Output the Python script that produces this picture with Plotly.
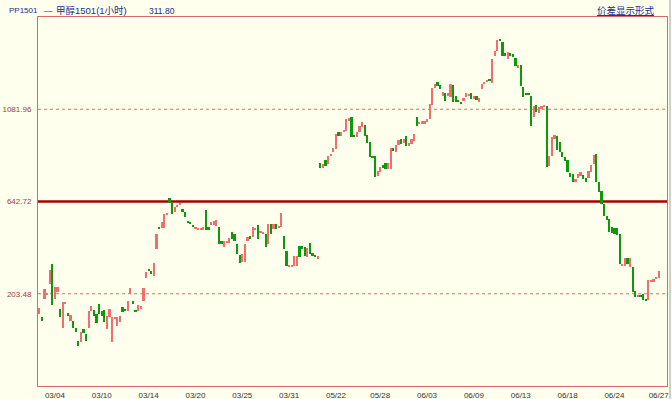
import plotly.graph_objects as go

# ---- data ----
tick_idx = [6, 24, 42, 60, 78, 96, 114, 131, 149, 167, 185, 203, 221, 238]
tick_labels = ["03/04", "03/10", "03/14", "03/20", "03/25", "03/31", "05/22",
               "05/28", "06/03", "06/09", "06/13", "06/18", "06/24", "06/27"]
ref_levels = [203.48, 642.72, 1081.96]
mid_level = 642.72
last_close = 311.80

opens = [
    108, 94, 180, 199, 251, 346, 180, 213, 132, 42, 156, 113, 75, 75, 42, -20, -25, 37, 13, 42,
    123, 127, 108, 156, 123, 127, 37, 94, -25, 84, 51, 70, 142, 127, 123, 203, 170, 123, 123, 132,
    170, 280, 322, 313, 289, 418, 523, 518, 518, 579, 660, 637, 594, 618, 627, 608, 594, 546, 546, 532,
    513, 508, 508, 508, 603, 523, 532, 532, 527, 523, 456, 427, 446, 446, 499, 489, 441, 389, 356, 356,
    456, 480, 475, 508, 532, 494, 489, 489, 441, 537, 513, 537, 518, 523, 480, 408, 332, 332, 337, 337,
    432, 432, 427, 380, 446, 399, 389, 370, 827, 803, 841, 822, 860, 879, 894, 975, 956, 975, 979, 1027,
    1046, 956, 951, 975, 998, 1008, 960, 927, 860, 860, 765, 784, 817, 827, 798, 798, 898, 879, 913, 941,
    922, 956, 908, 917, 932, 1046, 1013, 1013, 1013, 1022, 1036, 1103, 1184, 1213, 1198, 1146, 1160, 1146, 1141, 1198,
    1146, 1127, 1117, 1122, 1141, 1146, 1160, 1132, 1146, 1117, 1179, 1203, 1213, 1227, 1208, 1336, 1360, 1412, 1403, 1351,
    1322, 1351, 1346, 1327, 1279, 1293, 1189, 1160, 1160, 1146, 1046, 1103, 1065, 1084, 1094, 1098, 813, 860, 941, 956,
    927, 879, 856, 841, 779, 775, 737, 756, 765, 770, 756, 756, 784, 822, 870, 737, 694, 632, 575, 560,
    523, 518, 518, 489, 337, 337, 375, 332, 332, 218, 189, 199, 203, 180, 175, 261, 261, 275, 280,
]
closes = [
    137, 75, 227, 208, 318, 151, 237, 237, 94, 165, 165, 99, 103, 42, 23, -44, 23, 18, -20, 123,
    146, 99, 65, 108, 99, 70, 99, 132, 94, 94, 94, 99, 118, 123, 170, 232, 156, 118, 151, 146,
    232, 308, 313, 299, 351, 489, 513, 546, 584, 584, 637, 584, 618, 627, 632, 594, 570, 541, 537, 523,
    518, 513, 518, 523, 508, 508, 546, 551, 556, 441, 441, 456, 456, 470, 465, 456, 394, 351, 394, 441,
    475, 465, 523, 518, 465, 499, 494, 427, 537, 489, 537, 513, 527, 589, 418, 337, 337, 337, 384, 384,
    380, 418, 384, 422, 394, 384, 380, 384, 803, 822, 813, 860, 870, 898, 965, 956, 975, 984, 1036, 1041,
    951, 951, 975, 1003, 1022, 956, 922, 856, 851, 760, 789, 808, 803, 798, 827, 898, 884, 913, 936, 917,
    941, 908, 922, 941, 965, 1003, 1022, 1027, 1027, 1036, 1108, 1184, 1203, 1194, 1179, 1165, 1122, 1160, 1203, 1117,
    1117, 1117, 1108, 1136, 1160, 1155, 1132, 1146, 1127, 1136, 1203, 1213, 1222, 1217, 1322, 1360, 1412, 1408, 1336, 1336,
    1355, 1336, 1332, 1289, 1293, 1194, 1141, 1151, 1151, 1003, 1098, 1070, 1094, 1098, 1103, 808, 860, 951, 960, 889,
    879, 856, 837, 784, 760, 737, 751, 775, 784, 751, 737, 789, 817, 865, 737, 689, 632, 575, 556, 499,
    494, 489, 484, 346, 346, 375, 346, 375, 213, 189, 199, 189, 175, 170, 270, 265, 275, 284, 311.80,
]

# ---- figure ----
UP = "#F26E6E"
DOWN = "#0C9A0C"
idx = list(range(len(opens)))
base = [min(o, c) for o, c in zip(opens, closes)]
height = [abs(c - o) for o, c in zip(opens, closes)]
colors = [UP if c >= o else DOWN for o, c in zip(opens, closes)]

fig = go.Figure()
fig.add_trace(go.Bar(x=idx, y=height, base=base, width=0.85,
                     marker=dict(color=colors, line=dict(width=0)),
                     hoverinfo="skip", showlegend=False))

# reference lines
for lv in ref_levels:
    if lv == mid_level:
        fig.add_hline(y=lv, line=dict(color="#A80000", width=2.5), layer="below")
    else:
        fig.add_hline(y=lv, line=dict(color="#E06A6A", width=1, dash="dot"), layer="below")

half = (ref_levels[2] - ref_levels[0])
y_range = [mid_level - half, mid_level + half]

font_fam = "Liberation Sans, Noto Sans CJK SC, sans-serif"
fig.update_layout(
    width=672, height=399,
    margin=dict(l=38, r=5, t=17, b=13, autoexpand=False),
    paper_bgcolor="#FFFFEE", plot_bgcolor="#FFFFEE",
    bargap=0,
    font=dict(family=font_fam, size=8, color="#333333"),
    xaxis=dict(range=[-0.5, 241.2], tickmode="array", tickvals=tick_idx, ticktext=tick_labels,
               showgrid=False, zeroline=False, showline=True, mirror=True, automargin=False,
               linecolor="#DA6A6A", linewidth=1, ticks="", tickfont=dict(size=8, color="#333333"),
               ticklabelstandoff=1),
    yaxis=dict(range=y_range, tickmode="array", tickvals=ref_levels,
               ticktext=[f"{v:.2f}" for v in ref_levels], automargin=False,
               showgrid=False, zeroline=False, showline=True, mirror=True,
               linecolor="#DA6A6A", linewidth=1, ticks="",
               tickfont=dict(size=8, color="#A03A3A"), ticklabelstandoff=4),
)

hdr_y = 1 + 6 / 369
def px(xp):
    return (xp - 38) / 629

navy = "#1A2C90"
def hdr(xp, text, anchor="left", size=8.5):
    fig.add_annotation(x=px(xp), y=hdr_y, xref="paper", yref="paper", text=text,
                       showarrow=False, xanchor=anchor, yanchor="middle",
                       font=dict(size=size, color=navy))

hdr(7, "PP1501", size=8)
hdr(42, "—")
hdr(54, "甲醇1501(1小时)", size=9.5)
hdr(147, f"{last_close:.2f}")
hdr(657, "<u>价差显示形式</u>", anchor="right", size=9.5)

# outer window edge on the right
fig.add_shape(type="line", xref="paper", yref="paper", x0=px(670), x1=px(670), y0=-13 / 369, y1=1 + 17 / 369,
              line=dict(color="#A0A0A0", width=1))

fig.write_html("out.html", config={"displayModeBar": False},
               post_script="document.body.style.margin='0';document.body.style.padding='0';")
